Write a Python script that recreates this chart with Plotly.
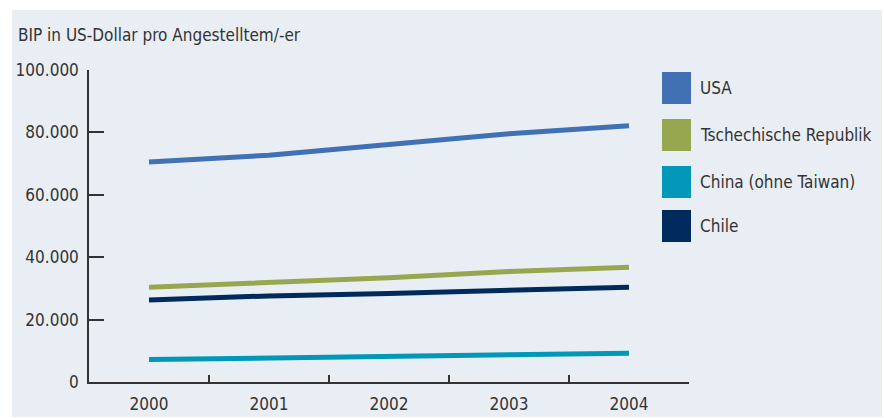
import plotly.graph_objects as go

years = ["2000", "2001", "2002", "2003", "2004"]
series_names = ["USA", "Tschechische Republik", "China (ohne Taiwan)", "Chile"]
usa = [70500, 72700, 76100, 79600, 82100]
czech = [30400, 31900, 33400, 35400, 36800]
china = [7200, 7600, 8000, 8600, 9200]
chile = [26300, 27600, 28400, 29400, 30400]
colors = ["#4170b3", "#97a74f", "#0097b9", "#002a5c"]
y_title = "BIP in US-Dollar pro Angestelltem/-er"

W, H = 884, 418
L, R, T, B = 89, 195, 70, 36
PW, PH = W - L - R, H - T - B

def px(x):
    return (x - L) / PW

def py(y):
    return (H - B - y) / PH

FONT = "DejaVu Sans Condensed, Liberation Sans Narrow, Arial Narrow, sans-serif"
TXT = "#333333"
FS = 17

fig = go.Figure()
# draw order: USA, Czech, Chile, China
for name, vals, col in [(series_names[0], usa, colors[0]),
                        (series_names[1], czech, colors[1]),
                        (series_names[3], chile, colors[3]),
                        (series_names[2], china, colors[2])]:
    fig.add_trace(go.Scatter(x=years, y=vals, mode="lines", name=name,
                             line=dict(color=col, width=5), showlegend=False))

shapes = [dict(type="rect", xref="paper", yref="paper",
               x0=px(12), x1=px(882), y0=py(417), y1=py(10),
               fillcolor="#e9eef5", line=dict(width=0), layer="below")]
annotations = [dict(text=y_title, xref="paper", yref="paper", x=px(16), y=py(35),
                    xanchor="left", yanchor="middle", showarrow=False,
                    font=dict(family=FONT, size=FS, color=TXT))]

centers = [88, 135, 182, 226]
for name, col, c in zip(series_names, colors, centers):
    shapes.append(dict(type="rect", xref="paper", yref="paper",
                       x0=px(662), x1=px(691), y0=py(c + 16), y1=py(c - 16),
                       fillcolor=col, line=dict(width=0)))
    annotations.append(dict(text=name, xref="paper", yref="paper", x=px(698), y=py(c),
                            xanchor="left", yanchor="middle", showarrow=False,
                            font=dict(family=FONT, size=FS, color=TXT)))

fig.update_layout(
    width=W, height=H,
    margin=dict(l=L, r=R, t=T, b=B, pad=0),
    paper_bgcolor="white", plot_bgcolor="rgba(0,0,0,0)",
    separators=",.",
    font=dict(family=FONT, size=FS, color=TXT),
    shapes=shapes, annotations=annotations,
    xaxis=dict(type="category", tickson="boundaries", ticks="inside", ticklen=7,
               tickwidth=1.5, tickcolor="#333333", showline=True, linecolor="#333333",
               linewidth=1.5, showgrid=False, zeroline=False, range=[-0.5, 4.5],
               ticklabelstandoff=6, automargin=False,
               tickfont=dict(family=FONT, size=FS, color=TXT), fixedrange=True),
    yaxis=dict(range=[0, 100000], tickvals=[0, 20000, 40000, 60000, 80000, 100000],
               tickformat=",d", ticks="inside", ticklen=15, tickwidth=1.5,
               tickcolor="#333333", showline=True, linecolor="#333333", linewidth=1.5,
               showgrid=False, zeroline=False, ticklabelstandoff=5, automargin=False,
               tickfont=dict(family=FONT, size=FS, color=TXT), fixedrange=True),
)

fig.write_html("out.html")
